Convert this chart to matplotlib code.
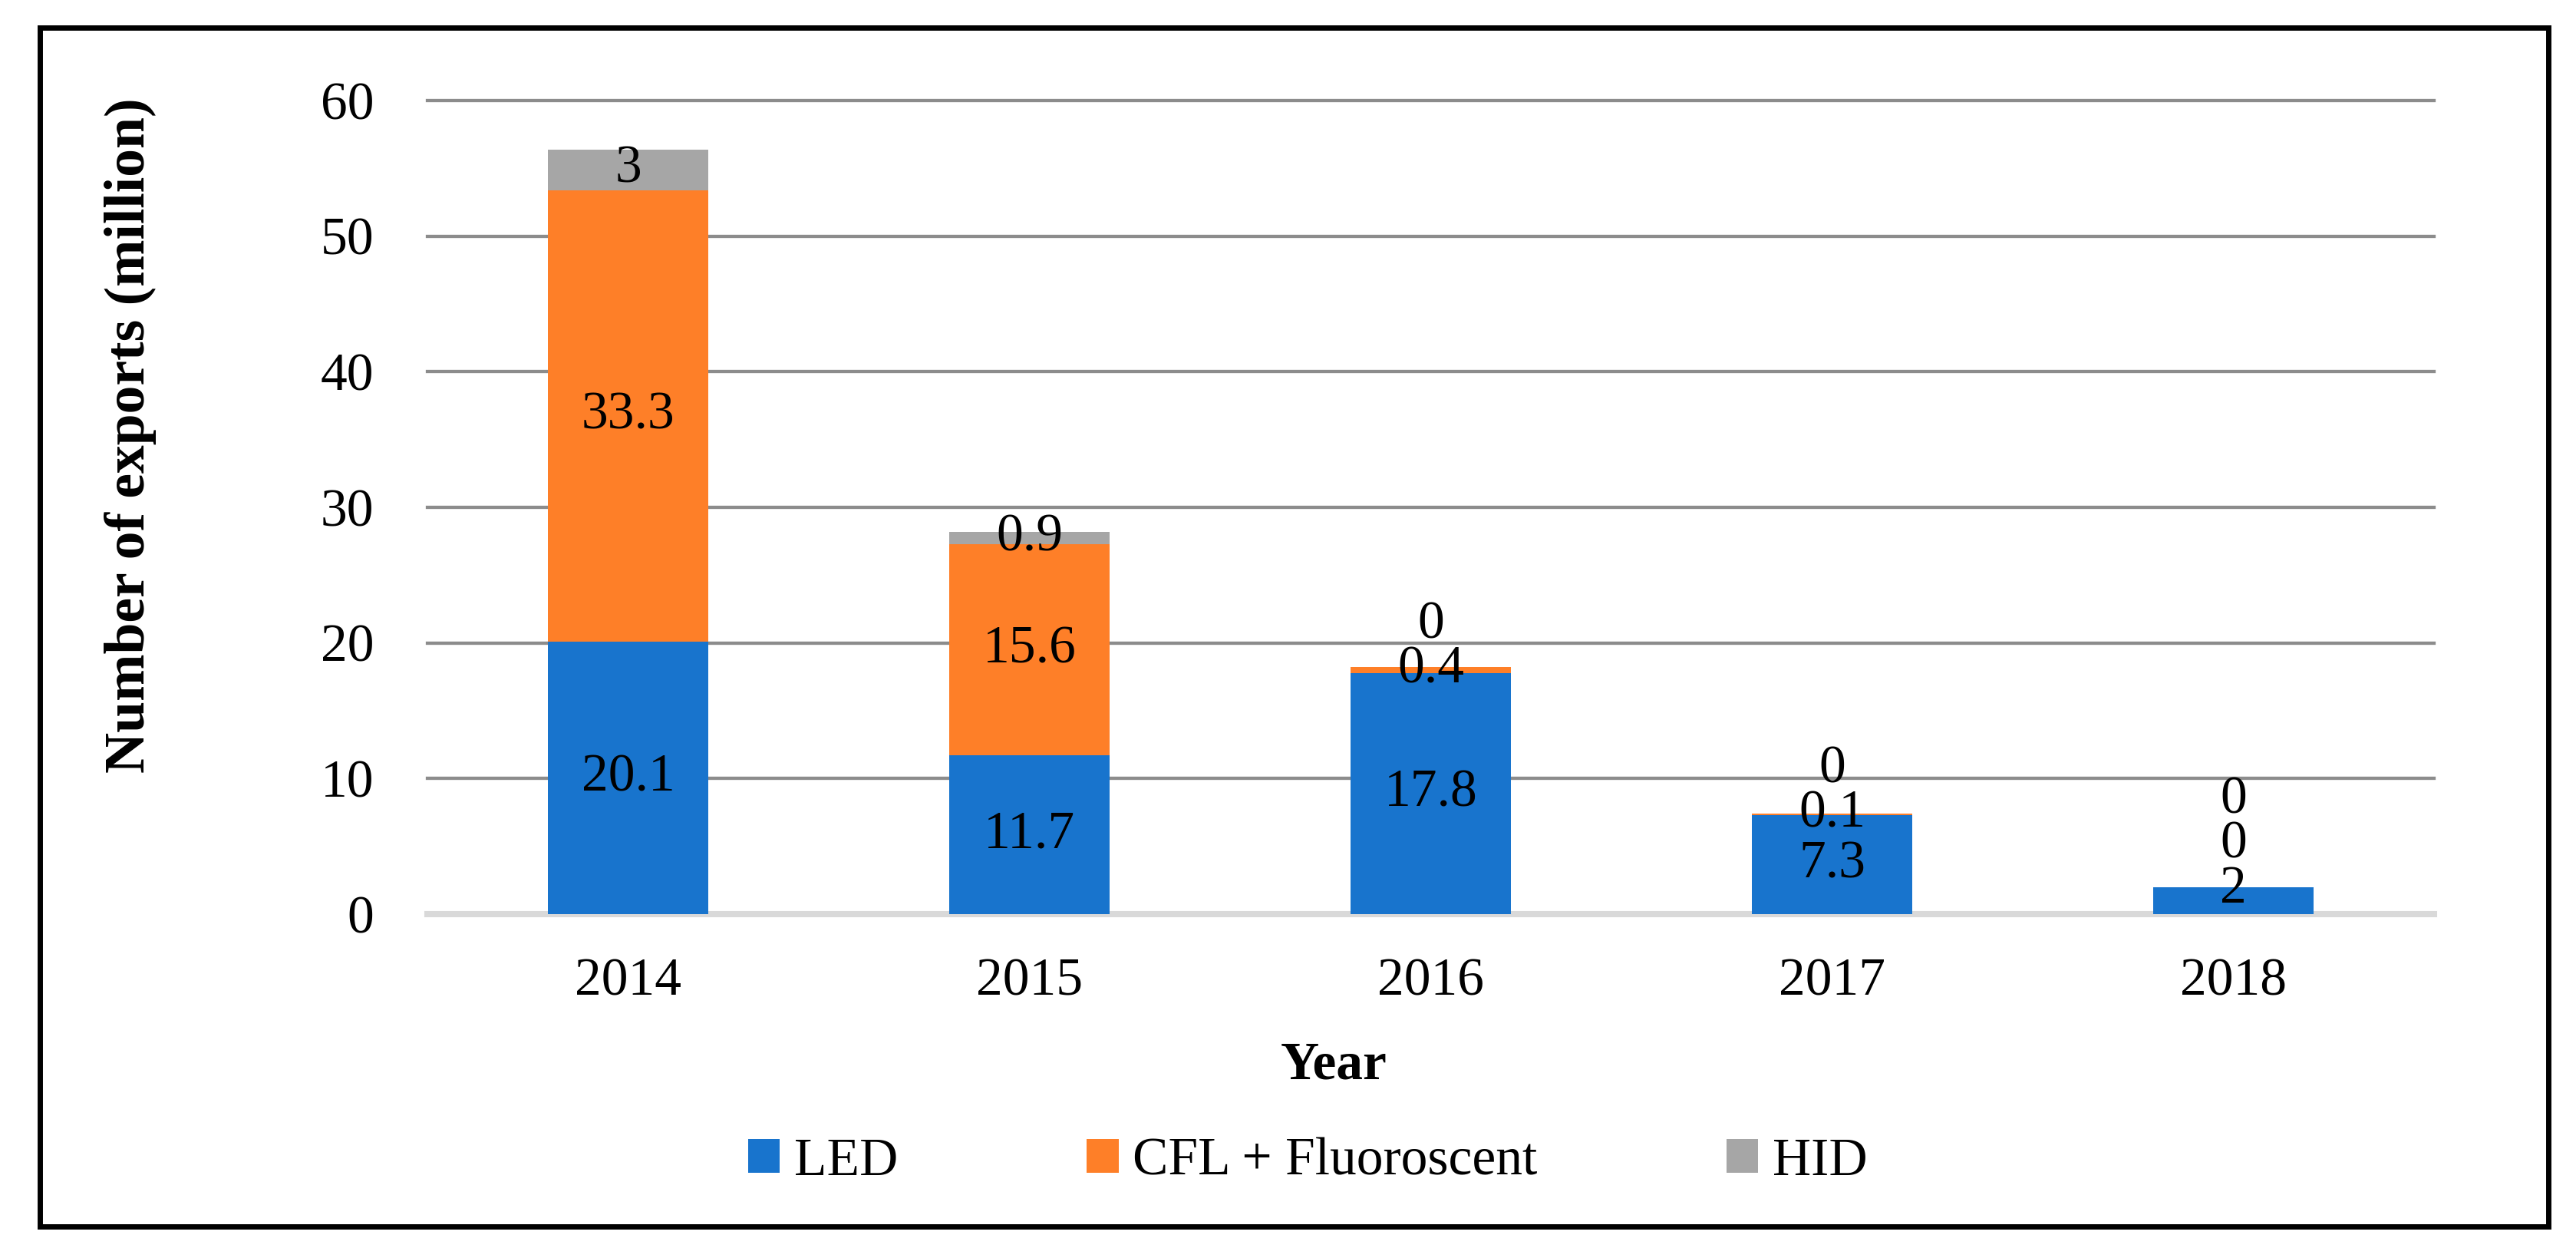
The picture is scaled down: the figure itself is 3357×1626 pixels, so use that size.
"""Stacked bars: lamp exports by technology, 2014-2018, with Excel-style labels."""

import matplotlib

matplotlib.use("Agg")
import matplotlib.pyplot as plt
from matplotlib.patches import Rectangle

years = ["2014", "2015", "2016", "2017", "2018"]
led = [20.1, 11.7, 17.8, 7.3, 2]
cfl = [33.3, 15.6, 0.4, 0.1, 0]
hid = [3, 0.9, 0, 0, 0]
series_names = ["LED", "CFL + Fluoroscent", "HID"]
yticks = [0, 10, 20, 30, 40, 50, 60]

COLORS = ["#1874cd", "#fe7f28", "#a6a6a6"]
GRID = "#8c8c8c"
ZERO = "#d9d9d9"
FONT = "Liberation Serif"
FS = 50

W, H = 3357, 1626
plt.rcParams["font.family"] = [FONT, "DejaVu Serif"]

fig = plt.figure(figsize=(W / 100, H / 100), dpi=100)
ax = fig.add_axes([557 / W, 1 - 1191 / H, (3172 - 557) / W, (1191 - 131) / H])

x = list(range(len(years)))
width = 0.40
bottoms = [0.0] * len(years)
label_pos = [[] for _ in years]
for vals, color, name in zip([led, cfl, hid], COLORS, series_names):
    ax.bar(x, vals, width, bottom=bottoms, color=color, label=name, zorder=3)
    for i, v in enumerate(vals):
        label_pos[i].append((bottoms[i] + v / 2, v))
    bottoms = [b + v for b, v in zip(bottoms, vals)]

# data labels: centred in segment, pushed up when they would collide
gap, floor = 3.3, 1.8
for i, labels in enumerate(label_pos):
    prev = -1e9
    for c, v in labels:
        y = max(c, prev + gap, floor)
        prev = y
        ax.text(i, y, f"{v:g}", ha="center", va="center", fontsize=FS,
                color="black", zorder=5)

for t in yticks[1:]:
    ax.axhline(t, color=GRID, linewidth=3.1, zorder=1, clip_on=False)
ax.axhline(0, color=ZERO, linewidth=5.8, zorder=2, clip_on=False)

ax.set_xlim(-0.5, len(years) - 0.5)
ax.set_ylim(0, 60)
ax.set_xticks(x)
ax.set_xticklabels(years)
ax.set_yticks(yticks)
ax.tick_params(length=0, labelsize=FS)
ax.tick_params(axis="y", pad=50)
ax.tick_params(axis="x", pad=41)
for s in ax.spines.values():
    s.set_visible(False)

fig.text(1738 / W, 1 - 1405 / H, "Year", ha="center", va="baseline",
         fontsize=FS, fontweight="bold")
fig.text(170 / W, 1 - 567 / H, "Number of exports (million)", rotation=90,
         ha="center", va="center", fontsize=53, fontweight="bold")

fig.legend(loc="center", bbox_to_anchor=(1704 / W, 1 - 1514 / H), ncol=3,
           frameon=False, fontsize=FS, handlelength=0.6, handleheight=0.6,
           handletextpad=0.26, columnspacing=3.55)

fig.patches.append(Rectangle((52 / W, 1 - 1598 / H), (3321 - 52) / W,
                             (1598 - 36) / H, transform=fig.transFigure,
                             fill=False, edgecolor="black", linewidth=5))

fig.savefig("out.png", dpi=100, facecolor="white")
